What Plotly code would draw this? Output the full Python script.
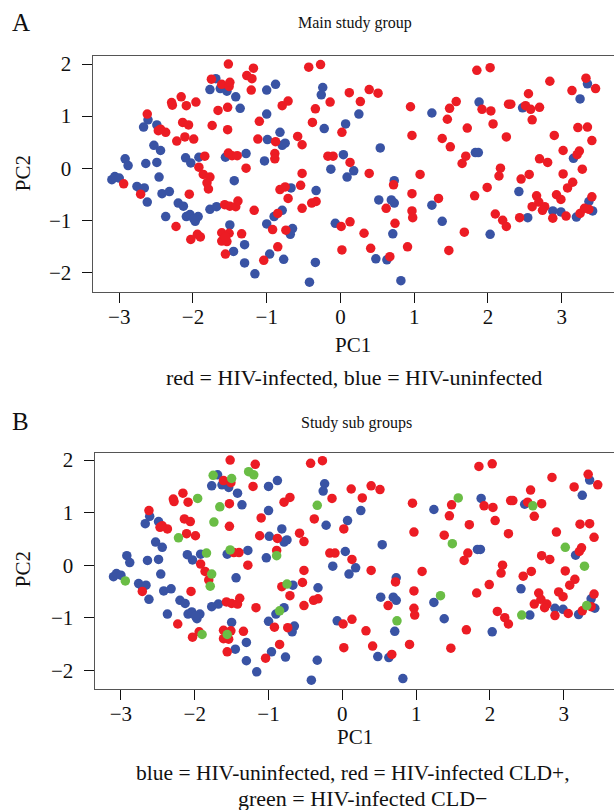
import plotly.graph_objects as go

# ---------------- data (PC scores) ----------------
# HIV-uninfected (blue in both panels)
uninf_pc1 = [-1.69, -1.77, -1.63, -1.54, -1.42, -1.00, -0.88, -0.24, -0.26, -1.36,
             -2.61, -2.67, -2.49, -1.00, -0.22, 0.07, -2.53, -2.44, -0.99, -0.82,
             -0.75, -0.79, -1.03, -2.92, -2.88, -2.64, -2.49, -2.10, -2.03, -1.92,
             -1.56, -1.28, 0.04, -0.13, 0.09, -3.10, -3.06, -3.00, -2.46, -1.44,
             -2.76, -2.71, -2.66, -2.62, -2.42, -2.32, -0.67, -0.33, -2.20, -2.13,
             -1.77, -1.68, -0.79, -0.90, -2.37, -2.09, -2.04, -1.97, -1.93, -1.99,
             -1.50, -1.00, -0.65, -0.68, -0.07, -1.30, -1.45, -0.96, -0.77, -1.30,
             -0.34, -1.16, -0.42,
             3.35, 3.25, 1.24, 1.88, 2.47, 0.25, 0.54, 0.18, 1.83, 1.87,
             3.16, 0.73, 2.42, 2.88, 2.99, 3.20, 3.37, 3.42, 0.52, 0.69,
             0.73, 1.24, 1.38, 2.54, 0.71, 2.03, 0.48, 0.63, 0.82]
uninf_pc2 = [1.72, 1.51, 1.53, 1.48, 1.37, 1.50, 1.61, 1.55, 1.41, 1.15,
             0.93, 0.79, 0.83, 1.04, 0.76, 0.85, 0.44, 0.34, 0.55, 0.69,
             0.48, 0.44, 0.14, 0.18, 0.05, 0.09, 0.11, 0.20, 0.10, 0.21,
             0.21, 0.28, 0.26, -0.02, -0.17, -0.22, -0.16, -0.19, -0.17, -0.24,
             -0.35, -0.41, -0.38, -0.65, -0.49, -0.45, -0.38, -0.43, -0.67, -0.73,
             -0.79, -0.74, -0.81, -0.93, -0.93, -0.93, -0.89, -1.02, -0.93, -0.97,
             -1.09, -1.07, -1.16, -1.27, -1.06, -1.47, -1.60, -1.65, -1.75, -1.82,
             -1.81, -2.03, -2.19,
             1.62, 1.33, 1.06, 1.27, 1.16, 1.04, 0.39, -0.05, 0.30, 0.30,
             0.19, -0.24, -0.45, -0.82, -0.84, -0.94, -0.64, -0.82, -0.61, -0.61,
             -0.67, -0.71, -1.02, -0.95, -1.26, -1.27, -1.74, -1.76, -2.16]

# HIV-infected with CLD+ (red in both panels)
cldpos_pc1 = [-1.52, -1.18, -0.43, -0.27, -1.61, -1.51, -1.21, -0.14, 0.12, -2.29,
              -2.28, -2.16, -2.09, -1.53, -0.79, -0.71, -2.62, -2.47, -2.37, -2.44,
              -2.14, -2.06, -1.53, -1.10, -0.38, 0.02, -2.11, -1.99, -1.12, -0.88,
              -0.58, -0.52, -0.89, -1.47, -1.40, -1.28, -1.92, -0.17, -0.10, 0.13,
              -0.52, -1.86, -1.81, -2.71, -2.05, -0.82, -0.54, -0.71, -0.39, -0.33,
              -0.52, -1.57, -1.50, -1.42, -1.39, -1.17, -2.23, -0.92, -0.74, 0.01,
              0.13, -2.03, -1.94, -1.61, -1.51, -1.61, -1.54, -1.34, -1.56, -0.85,
              -1.04, 0.02,
              1.85, 2.03, 2.84, 3.33, 3.46, 3.14, 0.39, 0.51, 0.27, 0.95,
              1.92, 2.04, 1.48, 1.45, 2.28, 2.31, 2.51, 2.70, 2.55, 2.60,
              2.07, 1.72, 0.97, 1.38, 2.25, 2.90, 3.22, 3.35, 3.41, 0.39,
              1.70, 1.65, 3.24, 3.21, 2.70, 2.81, 2.17, 2.15, 2.45, 2.56,
              3.02, 3.15, 3.08, 1.08, 0.72, 1.99, 1.82, 2.66, 2.69, 2.60,
              2.77, 2.74, 2.93, 2.99, 2.88, 3.06, 3.41, 3.25, 3.37, 0.97,
              0.62, 0.97, 0.98, 2.10, 2.20, 2.25, 0.32, 1.68, 0.41, 0.91,
              1.47, 0.67]
cldpos_pc2 = [2.00, 1.92, 1.94, 1.99, 1.61, 1.57, 1.50, 1.27, 1.45, 1.26,
              1.21, 1.37, 1.20, 1.17, 1.20, 1.29, 1.04, 0.72, 0.69, 0.75,
              0.88, 0.83, 0.74, 0.90, 0.88, 0.69, 0.60, 0.56, 0.56, 0.51,
              0.61, 0.45, 0.28, 0.24, 0.24, 0.00, 0.02, 0.23, 0.23, 0.11,
              -0.10, -0.12, -0.28, -0.50, -0.50, -0.41, -0.33, -0.58, -0.67, -0.64,
              -0.77, -0.70, -0.73, -0.74, -0.63, -0.81, -1.12, -1.18, -1.19, -1.12,
              -1.03, -1.37, -1.27, -1.24, -1.25, -1.40, -1.41, -1.26, -1.65, -1.51,
              -1.77, -1.57,
              1.88, 1.93, 1.67, 1.73, 1.53, 1.49, 1.51, 1.44, 1.28, 1.18,
              1.13, 1.10, 1.15, 0.94, 1.23, 1.23, 1.20, 1.17, 1.43, 0.93,
              0.85, 0.77, 0.63, 0.57, 0.60, 0.63, 0.78, 0.79, 0.53, -0.10,
              0.23, 0.09, 0.33, 0.26, 0.18, 0.11, 0.00, -0.15, -0.21, -0.12,
              -0.11, -0.27, -0.38, -0.12, -0.32, -0.37, -0.53, -0.53, -0.65, -0.74,
              -0.74, -0.81, -0.51, -0.60, -0.96, -0.92, -0.55, -0.87, -0.79, -0.49,
              -0.77, -0.82, -0.95, -0.88, -1.00, -1.12, -1.25, -1.23, -1.54, -1.51,
              -1.58, -1.70]

# HIV-infected with CLD- (red in panel A, green in panel B)
cldneg_pc1 = [-1.27, -1.20, -1.75, -1.50, -1.96, -1.66, -0.34, -1.74, -2.22, -0.89,
              -1.84, -1.52, -2.94, -1.77, -1.79, -0.75, -0.85, -1.90, -1.56,
              1.57, 2.58, 1.49, 3.02, 3.28, 3.31, 1.33, 2.43, 0.74]
cldneg_pc2 = [1.78, 1.72, 1.71, 1.65, 1.27, 1.11, 1.14, 0.82, 0.52, 0.18,
              0.23, 0.29, -0.30, -0.17, -0.40, -0.36, -0.87, -1.32, -1.32,
              1.28, 1.13, 0.41, 0.34, -0.02, -0.77, -0.58, -0.95, -1.06]

x_ticks = [-3, -2, -1, 0, 1, 2, 3]
y_ticks = [-2, -1, 0, 1, 2]

# ---------------- styling ----------------
W, H = 614, 810
RED, BLUE, GREEN = "#EC1C24", "#3953A4", "#6ABD45"
FONT = "Liberation Serif"
MS = 9.5


def px(xp):
    return xp / W


def py(yp):
    return 1 - yp / H


fig = go.Figure()

def dots(x, y, color, xa, ya):
    fig.add_trace(go.Scatter(x=x, y=y, mode="markers", xaxis=xa, yaxis=ya,
                             marker=dict(size=MS, color=color, line=dict(width=0)),
                             showlegend=False, hoverinfo="skip"))

# Panel A: blue = uninfected, red = all infected
dots(uninf_pc1, uninf_pc2, BLUE, "x", "y")
dots(cldpos_pc1 + cldneg_pc1, cldpos_pc2 + cldneg_pc2, RED, "x", "y")
# Panel B: blue uninfected, red CLD+, green CLD-
dots(uninf_pc1, uninf_pc2, BLUE, "x2", "y2")
dots(cldpos_pc1, cldpos_pc2, RED, "x2", "y2")
dots(cldneg_pc1, cldneg_pc2, GREEN, "x2", "y2")

tickfont = dict(family=FONT, size=21, color="#111")

def xax(dom, rng, anchor):
    return dict(domain=dom, range=rng, anchor=anchor, tickvals=x_ticks,
                ticks="outside", ticklen=10, tickwidth=1.2, tickcolor="#111",
                showline=True, linecolor="#555", linewidth=1.4, mirror=True,
                showgrid=False, zeroline=False, tickfont=tickfont,
                ticklabelstandoff=-4)

def yax(dom, rng, anchor):
    return dict(domain=dom, range=rng, anchor=anchor, tickvals=y_ticks,
                ticks="outside", ticklen=10, tickwidth=1.2, tickcolor="#111",
                showline=True, linecolor="#555", linewidth=1.4, mirror=False,
                showgrid=False, zeroline=False, tickfont=tickfont,
                ticklabelstandoff=6)

fig.update_layout(
    width=W, height=H, margin=dict(l=0, r=0, t=0, b=0),
    paper_bgcolor="white", plot_bgcolor="white",
    xaxis=xax([px(92.7), 1.0], [-3.36, 3.71], "y"),
    yaxis=yax([py(289), py(52)], [-2.37, 2.16], "x"),
    xaxis2=xax([px(94.7), 1.0], [-3.355, 3.68], "y2"),
    yaxis2=yax([py(688), py(451)], [-2.35, 2.14], "x2"),
)

def note(text, xp, yp, size, xanchor="center", angle=0):
    fig.add_annotation(text=text, x=px(xp), y=py(yp), xref="paper", yref="paper",
                       xanchor=xanchor, yanchor="middle", showarrow=False,
                       textangle=angle, font=dict(family=FONT, size=size, color="#111"))

# Panel A texts
note("A", 10, 19, 25, xanchor="left")
note("Main study group", 355, 19, 16)
note("PC2", 23, 170, 21, angle=-90)
note("PC1", 353, 343, 21)
note("red = HIV-infected, blue = HIV-uninfected", 354, 375, 22)
# Panel B texts
note("B", 10, 420, 25, xanchor="left")
note("Study sub groups", 356, 421, 16)
note("PC2", 23, 568, 21, angle=-90)
note("PC1", 355, 737, 21)
note("blue = HIV-uninfected, red = HIV-infected CLD+,", 353, 773, 21.5)
note("green = HIV-infected CLD\u2212", 362, 798, 22)

fig.write_html("out.html",
               config={"displayModeBar": False},
               post_script="document.body.style.margin='0';document.body.style.padding='0';")
